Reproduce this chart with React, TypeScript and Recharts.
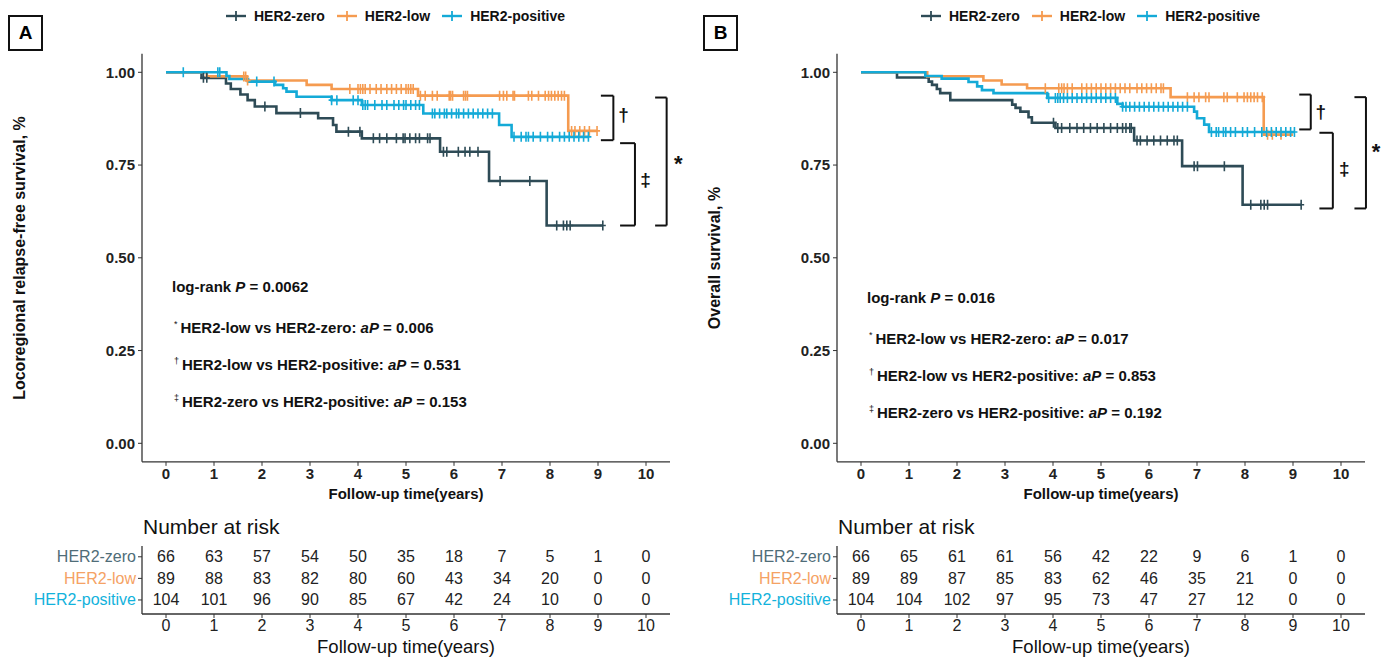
import React from 'react'
import { ComposedChart, ScatterChart, Line, Scatter, XAxis, YAxis, ReferenceLine, ReferenceDot } from 'recharts'

const years = [0, 1, 2, 3, 4, 5, 6, 7, 8, 9, 10]
const groups = ['HER2-zero', 'HER2-low', 'HER2-positive']
const lineColors: Record<string, string> = { 'HER2-zero': '#2E4B56', 'HER2-low': '#F59B50', 'HER2-positive': '#14AAD7' }
const labelColors: Record<string, string> = { 'HER2-zero': '#4F6D78', 'HER2-low': '#F5A264', 'HER2-positive': '#12B2DC' }

// panel A - locoregional relapse-free survival, [years, survival]
const lrfsZero: [number, number][] = [[0, 1], [0.74, 0.985], [1.25, 0.97], [1.35, 0.955], [1.55, 0.94], [1.7, 0.925], [1.85, 0.908], [2.3, 0.89], [3.17, 0.876], [3.48, 0.858], [3.55, 0.84], [4.08, 0.822], [5.71, 0.786], [6.73, 0.707], [7.93, 0.587], [9.1, 0.587]]
const lrfsLow: [number, number][] = [[0, 1], [0.85, 0.989], [1.68, 0.978], [2.93, 0.966], [3.45, 0.955], [5.25, 0.937], [8.38, 0.842], [8.98, 0.842]]
const lrfsPos: [number, number][] = [[0, 1], [1.26, 0.99], [1.32, 0.982], [1.71, 0.975], [2.27, 0.966], [2.44, 0.957], [2.51, 0.948], [2.72, 0.934], [3.45, 0.925], [4.08, 0.912], [5.36, 0.889], [6.94, 0.858], [7.2, 0.826], [8.8, 0.826]]

const lrfsZeroCens = [0.78, 0.85, 2.06, 2.8, 3.8, 4.04, 4.32, 4.45, 4.6, 4.8, 4.94, 4.98, 5.08, 5.2, 5.28, 5.45, 5.5, 5.78, 5.85, 6.09, 6.23, 6.33, 6.5, 6.96, 7.58, 8.14, 8.28, 8.35, 8.42, 9.1]
const lrfsLowCens = [1.62, 1.66, 1.7, 3.83, 4.0, 4.05, 4.1, 4.15, 4.25, 4.38, 4.48, 4.6, 4.7, 4.8, 4.9, 5.0, 5.05, 5.1, 5.15, 5.3, 5.4, 5.55, 5.65, 5.9, 5.93, 5.97, 6.2, 6.24, 6.28, 6.95, 7.03, 7.1, 7.23, 7.26, 7.55, 7.62, 7.76, 7.9, 7.97, 8.03, 8.1, 8.17, 8.24, 8.3, 8.45, 8.52, 8.62, 8.72, 8.82, 8.98]
const lrfsPosCens = [0.36, 1.08, 1.12, 1.89, 2.25, 3.45, 3.56, 3.9, 4.0, 4.1, 4.15, 4.2, 4.35, 4.5, 4.6, 4.75, 4.85, 4.95, 5.0, 5.1, 5.2, 5.28, 5.55, 5.6, 5.7, 5.8, 5.85, 5.95, 6.05, 6.1, 6.2, 6.3, 6.4, 6.5, 6.6, 6.7, 6.8, 7.25, 7.4, 7.5, 7.55, 7.65, 7.8, 7.95, 8.05, 8.2, 8.3, 8.4, 8.5, 8.6, 8.7, 8.8]

// panel B - overall survival
const osZero: [number, number][] = [[0, 1], [0.75, 0.986], [1.41, 0.975], [1.48, 0.966], [1.58, 0.955], [1.65, 0.944], [1.86, 0.925], [3.15, 0.913], [3.22, 0.904], [3.32, 0.894], [3.49, 0.879], [3.56, 0.864], [4.05, 0.85], [5.69, 0.816], [6.69, 0.747], [7.95, 0.643], [9.17, 0.643]]
const osLow: [number, number][] = [[0, 1], [1.38, 0.989], [2.55, 0.978], [2.93, 0.967], [3.46, 0.957], [6.45, 0.933], [8.39, 0.832], [9.0, 0.832]]
const osPos: [number, number][] = [[0, 1], [1.34, 0.99], [1.68, 0.983], [2.24, 0.974], [2.42, 0.962], [2.52, 0.952], [2.76, 0.944], [3.88, 0.931], [5.34, 0.915], [5.45, 0.907], [6.94, 0.894], [7.0, 0.876], [7.15, 0.859], [7.25, 0.839], [9.03, 0.839]]

const osZeroCens = [4.01, 4.1, 4.18, 4.35, 4.5, 4.64, 4.78, 4.92, 5.06, 5.2, 5.34, 5.45, 5.52, 5.6, 5.63, 5.75, 5.82, 5.96, 6.1, 6.24, 6.38, 6.52, 6.59, 6.94, 7.01, 7.57, 8.12, 8.33, 8.4, 8.47, 9.17]
const osLowCens = [3.84, 4.12, 4.18, 4.23, 4.3, 4.4, 4.6, 4.7, 4.8, 4.9, 5.0, 5.1, 5.2, 5.3, 5.4, 5.5, 5.6, 5.75, 5.85, 5.95, 6.05, 6.15, 6.25, 6.3, 6.8, 6.94, 7.04, 7.18, 7.25, 7.56, 7.63, 7.84, 7.98, 8.05, 8.12, 8.19, 8.26, 8.36, 8.47, 8.57, 8.75]
const osPosCens = [3.91, 4.05, 4.1, 4.15, 4.22, 4.3, 4.4, 4.5, 4.6, 4.7, 4.8, 4.9, 5.0, 5.1, 5.2, 5.3, 5.45, 5.52, 5.6, 5.7, 5.8, 5.9, 6.0, 6.1, 6.2, 6.3, 6.4, 6.5, 6.6, 6.7, 6.8, 7.3, 7.4, 7.45, 7.55, 7.6, 7.7, 7.8, 7.95, 8.05, 8.2, 8.35, 8.45, 8.55, 8.65, 8.75, 8.85, 8.95, 9.03]

// number at risk
const riskA = [
  [66, 63, 57, 54, 50, 35, 18, 7, 5, 1, 0],
  [89, 88, 83, 82, 80, 60, 43, 34, 20, 0, 0],
  [104, 101, 96, 90, 85, 67, 42, 24, 10, 0, 0],
]
const riskB = [
  [66, 65, 61, 61, 56, 42, 22, 9, 6, 1, 0],
  [89, 89, 87, 85, 83, 62, 46, 35, 21, 0, 0],
  [104, 104, 102, 97, 95, 73, 47, 27, 12, 0, 0],
]

// significance brackets (data units)
const bracketsA = [
  { x1: 9.06, x2: 9.32, top: 0.937, bottom: 0.817, mark: '†', mt: 9.53, ms: 0.885 },
  { x1: 9.46, x2: 9.77, top: 0.809, bottom: 0.587, mark: '‡', mt: 9.99, ms: 0.71 },
  { x1: 10.19, x2: 10.43, top: 0.932, bottom: 0.587, mark: '*', mt: 10.67, ms: 0.755 },
]
const bracketsB = [
  { x1: 9.13, x2: 9.37, top: 0.94, bottom: 0.846, mark: '†', mt: 9.58, ms: 0.893 },
  { x1: 9.55, x2: 9.83, top: 0.837, bottom: 0.633, mark: '‡', mt: 10.07, ms: 0.742 },
  { x1: 10.28, x2: 10.52, top: 0.933, bottom: 0.633, mark: '*', mt: 10.73, ms: 0.787 },
]

const statsA = { logrank: '0.0062', p: ['0.006', '0.531', '0.153'] }
const statsB = { logrank: '0.016', p: ['0.017', '0.853', '0.192'] }

const FONT = '"Liberation Sans", Arial, Helvetica, sans-serif'
const AXIS = '#333'

const toPts = (s: [number, number][]) => s.map(([t, v]) => ({ t, s: v }))
const levelAt = (steps: [number, number][], t: number) => {
  let v = 1
  for (const [x, s] of steps) if (x <= t) v = s
  return v
}

function CensorMark(props: any) {
  const { cx, cy, fill } = props
  if (cx == null || cy == null) return null
  return <path d={`M${cx},${cy - 5}V${cy + 5}M${cx - 3},${cy}H${cx + 3}`} stroke={fill} strokeWidth={1.6} fill="none" />
}

function LegendIcon({ color }: { color: string }) {
  return (
    <svg width={20} height={12} style={{ display: 'block' }}>
      <line x1={0} y1={6} x2={20} y2={6} stroke={color} strokeWidth={2.4} />
      <line x1={10} y1={1} x2={10} y2={11} stroke={color} strokeWidth={1.8} />
    </svg>
  )
}

interface PanelProps {
  left: number
  letter: string
  yLabel: string
  steps: [number, number][][]
  censors: number[][]
  risk: number[][]
  brackets: typeof bracketsA
  stats: typeof statsA
  statsTop: number
}

function Panel({ left, letter, yLabel, steps, censors, risk, brackets, stats, statsTop }: PanelProps) {
  const riskData = groups.flatMap((g, i) => years.map((t, j) => ({ t, row: 3 - i, n: risk[i][j] })))
  const comps = [
    { sym: '*', text: 'HER2-low vs HER2-zero: ' },
    { sym: '†', text: 'HER2-low vs HER2-positive: ' },
    { sym: '‡', text: 'HER2-zero vs HER2-positive: ' },
  ]
  return (
    <div style={{ position: 'absolute', left, top: 0, width: 700, height: 659 }}>
      <div style={{ position: 'absolute', left: 8, top: 15, width: 31, height: 32, border: '2px solid #111', fontWeight: 'bold', fontSize: 19, lineHeight: '32px', textAlign: 'center' }}>{letter}</div>
      <div style={{ position: 'absolute', left: 226, top: 7, height: 18, display: 'flex', alignItems: 'center', fontWeight: 'bold', fontSize: 14, color: '#111' }}>
        {groups.map((g, i) => (
          <div key={g} style={{ display: 'flex', alignItems: 'center', marginLeft: i === 0 ? 0 : 12 }}>
            <LegendIcon color={lineColors[g]} />
            <span style={{ marginLeft: 8 }}>{g}</span>
          </div>
        ))}
      </div>

      <ComposedChart width={700} height={510} margin={{ top: 53.75, right: 30, bottom: 0, left: 0 }} style={{ position: 'absolute', left: 0, top: 0 }}>
        <XAxis type="number" dataKey="t" domain={[-0.5, 10.5]} ticks={years} interval={0} allowDataOverflow height={48.15}
          tickSize={4} tickMargin={2} stroke={AXIS} axisLine={{ stroke: AXIS, strokeWidth: 1.3 }}
          tick={{ fontSize: 15, fontWeight: 'bold', fill: '#222' }} />
        <YAxis type="number" dataKey="s" domain={[-0.05, 1.05]} ticks={[0, 0.25, 0.5, 0.75, 1]} interval={0} width={142}
          tickSize={4} tickMargin={3} stroke={AXIS} axisLine={{ stroke: AXIS, strokeWidth: 1.3 }}
          tickFormatter={(v: number) => v.toFixed(2)} tick={{ fontSize: 15, fontWeight: 'bold', fill: '#222' }} />
        {groups.map((g, i) => (
          <Line key={g} data={toPts(steps[i])} dataKey="s" type="stepAfter" stroke={lineColors[g]} strokeWidth={2.6} dot={false} isAnimationActive={false} />
        ))}
        {groups.map((g, i) => (
          <Scatter key={g + 'c'} data={censors[i].map((t) => ({ t, s: levelAt(steps[i], t) }))} dataKey="s" fill={lineColors[g]} shape={CensorMark} isAnimationActive={false} />
        ))}
        {brackets.flatMap((b, k) => [
          <ReferenceLine key={`a${k}`} segment={[{ x: b.x1, y: b.top }, { x: b.x2, y: b.top }]} stroke="#111" strokeWidth={2} ifOverflow="visible" />,
          <ReferenceLine key={`b${k}`} segment={[{ x: b.x2, y: b.top }, { x: b.x2, y: b.bottom }]} stroke="#111" strokeWidth={2} ifOverflow="visible" />,
          <ReferenceLine key={`c${k}`} segment={[{ x: b.x1, y: b.bottom }, { x: b.x2, y: b.bottom }]} stroke="#111" strokeWidth={2} ifOverflow="visible" />,
          <ReferenceDot key={`d${k}`} x={b.mt} y={b.ms} r={0} ifOverflow="visible"
            shape={(p: any) => <text x={p.cx} y={p.cy} textAnchor="middle" dominantBaseline="central" fontSize={b.mark === '*' ? 22 : 19} fontWeight="bold" fill="#111">{b.mark}</text>} />,
        ])}
      </ComposedChart>

      <div style={{ position: 'absolute', left: 20, top: 258, transform: 'translate(-50%, -50%) rotate(-90deg)', whiteSpace: 'nowrap', fontWeight: 'bold', fontSize: 16, color: '#111' }}>{yLabel}</div>
      <div style={{ position: 'absolute', left: 406, top: 493, transform: 'translate(-50%, -50%)', whiteSpace: 'nowrap', fontWeight: 'bold', fontSize: 15, color: '#111' }}>Follow-up time(years)</div>

      <div style={{ position: 'absolute', left: 172, top: statsTop - 9, fontWeight: 'bold', fontSize: 15, lineHeight: '18px', color: '#111', whiteSpace: 'nowrap' }}>
        log-rank <i>P</i> = {stats.logrank}
      </div>
      {comps.map((c, i) => (
        <div key={c.sym} style={{ position: 'absolute', left: 174, top: statsTop + 37 * (i + 1) - 9, fontWeight: 'bold', fontSize: 15, lineHeight: '18px', color: '#111', whiteSpace: 'nowrap' }}>
          <span style={{ fontSize: 9, fontWeight: 'normal', verticalAlign: 'super', marginRight: 3 }}>{c.sym}</span>
          {c.text}<i>aP</i> = {stats.p[i]}
        </div>
      ))}

      <div style={{ position: 'absolute', left: 143, top: 527, transform: 'translateY(-50%)', fontSize: 21, color: '#111', whiteSpace: 'nowrap' }}>Number at risk</div>
      <ScatterChart width={700} height={119} margin={{ top: 6, right: 30, bottom: 0, left: 0 }} style={{ position: 'absolute', left: 0, top: 540 }}>
        <XAxis type="number" dataKey="t" domain={[-0.5, 10.5]} ticks={years} interval={0} height={45}
          tickSize={4} tickMargin={2} stroke={AXIS} axisLine={{ stroke: AXIS, strokeWidth: 1.3 }}
          tick={{ fontSize: 16, fill: '#222' }} />
        <YAxis type="number" dataKey="row" domain={[0.35, 3.5]} ticks={[1, 2, 3]} interval={0} width={142}
          tickSize={4} tickMargin={2} stroke={AXIS} axisLine={{ stroke: AXIS, strokeWidth: 1.3 }}
          tick={(p: any) => {
            const g = groups[3 - p.payload.value]
            return <text x={p.x} y={p.y} textAnchor="end" dominantBaseline="central" fontSize={16} fill={labelColors[g]}>{g}</text>
          }} />
        <Scatter data={riskData} fill="#222" isAnimationActive={false}
          shape={(p: any) => <text x={p.cx} y={p.cy} textAnchor="middle" dominantBaseline="central" fontSize={16} fill="#222">{p.payload.n}</text>} />
      </ScatterChart>
      <div style={{ position: 'absolute', left: 406, top: 647, transform: 'translate(-50%, -50%)', whiteSpace: 'nowrap', fontSize: 18.5, color: '#111' }}>Follow-up time(years)</div>
    </div>
  )
}

export default function App() {
  return (
    <div style={{ position: 'absolute', left: 0, top: 0, width: 1387, height: 659, overflow: 'hidden', background: '#fff', fontFamily: FONT }}>
      <Panel left={0} letter="A" yLabel="Locoregional relapse-free survival, %" steps={[lrfsZero, lrfsLow, lrfsPos]}
        censors={[lrfsZeroCens, lrfsLowCens, lrfsPosCens]} risk={riskA} brackets={bracketsA} stats={statsA} statsTop={287} />
      <Panel left={695} letter="B" yLabel="Overall survival, %" steps={[osZero, osLow, osPos]}
        censors={[osZeroCens, osLowCens, osPosCens]} risk={riskB} brackets={bracketsB} stats={statsB} statsTop={298} />
    </div>
  )
}
